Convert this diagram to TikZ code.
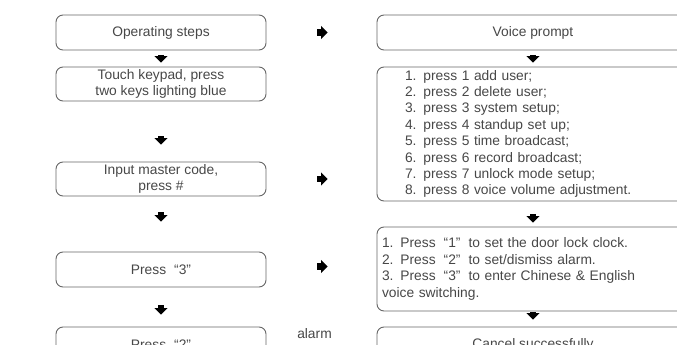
\documentclass[tikz,border=0pt]{standalone}
\usepackage{fontspec}
\setmainfont{Liberation Sans}
\usetikzlibrary{arrows.meta,positioning}

\tikzset{
	stepbox/.style={draw=black!60, line width=0.9pt, rounded corners=7pt, minimum width=210pt, minimum height=35pt, align=center, inner sep=2pt},
	promptbox/.style={draw=black!60, line width=0.9pt, rounded corners=7pt, minimum width=312pt, minimum height=35pt, inner sep=2pt},
	blockarrow/.style={draw=black, line width=6.5pt, -{Triangle[width=13pt,length=6.5pt]}},
}
\newcommand{\quoted}[1]{\hspace{8pt}“#1”}

\begin{document}
\begin{tikzpicture}[x=1pt, y=-1pt, font=\fontsize{13.8}{16.4}\selectfont, text=black!72]
		\useasboundingbox (0,0) rectangle (677,345);
		\clip (0,0) rectangle (677,345);
		% left column
		\node[stepbox] (op) at (161,32.5) {Operating steps};
		\node[stepbox, minimum height=34pt] (touch) at (161,84) {Touch keypad, press\\two keys lighting blue};
		\node[stepbox, minimum height=34pt] (master) at (161,179) {Input master code,\\press \#};
		\node[stepbox] (press3) at (161,269.5) {Press\quoted{3}};
		\node[stepbox] (press2) at (161,344.5) {Press\quoted{2}};
		\node (alarm) at (314.5,334) {alarm};
		% right column
		\node[promptbox] (voice) at (533,32.5) {Voice prompt};
		\node[promptbox, align=left, text width=256pt, inner xsep=28pt, minimum height=134pt] (menu) at (533,134) {1. press 1 add user;\\2. press 2 delete user;\\3. press 3 system setup;\\4. press 4 standup set up;\\5. press 5 time broadcast;\\6. press 6 record broadcast;\\7. press 7 unlock mode setup;\\8. press 8 voice volume adjustment.};
		\node[promptbox, align=left, text width=302pt, inner xsep=5pt, minimum height=84pt] (setup) at (533,269) {1. Press\quoted{1}\hspace{8pt}to set the door lock clock.\\2. Press\quoted{2}\hspace{8pt}to set/dismiss alarm.\\3. Press\quoted{3}\hspace{8pt}to enter Chinese \& English\\voice switching.};
		\node[promptbox] (cancel) at (533,344.5) {Cancel successfully};
		% arrows down
		\draw[blockarrow, shorten <=5pt, shorten >=4pt] (op) -- (touch);
		\draw[blockarrow, shorten <=35pt, shorten >=17pt] (touch) -- (master);
		\draw[blockarrow, shorten <=16pt, shorten >=30pt] (master) -- (press3);
		\draw[blockarrow, shorten <=18pt, shorten >=12pt] (press3) -- (press2);
		\draw[blockarrow, shorten <=5pt, shorten >=4pt] (voice) -- (menu);
		\draw[blockarrow, shorten <=13pt, shorten >=4pt] (menu) -- (setup);
		\draw[blockarrow, shorten <=1pt, shorten >=7pt] (setup) -- (cancel);
		% arrows right
		\draw[blockarrow, shorten <=51pt, shorten >=49pt] (op) -- (voice);
		\draw[blockarrow, shorten <=51pt, shorten >=49pt] (master.east) -- (master.east -| menu.west);
		\draw[blockarrow, shorten <=51pt, shorten >=49pt] ([yshift=3pt]press3.east) -- ([yshift=3pt]press3.east -| setup.west);
	\end{tikzpicture}
\end{document}
